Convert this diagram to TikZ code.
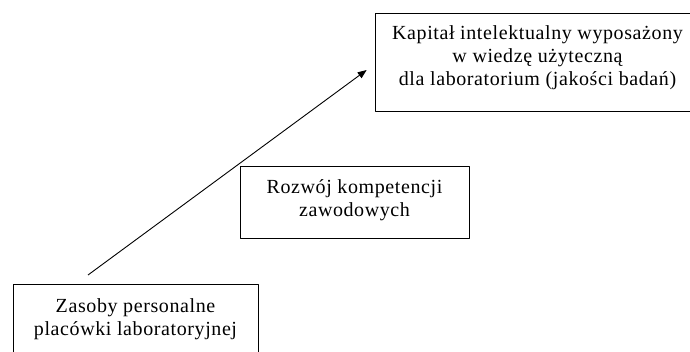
\documentclass[tikz,border=0pt]{standalone}
\usepackage{fontspec}
\setmainfont[LetterSpace=3]{Liberation Serif}
\usetikzlibrary{arrows.meta}
\begin{document}
\begin{tikzpicture}[x=1pt, y=1pt, font=\fontsize{20}{23}\selectfont, line join=round, >={Triangle[length=9pt,width=7pt]},
	box/.style={draw, line width=0.7pt, align=center, inner sep=0pt}]
			\def\W{690} \def\H{351}
			\useasboundingbox (0,0) rectangle (\W,\H);
			\node[box, minimum width=325, minimum height=98, text depth=12pt] (kapital) at (537.5,289) {Kapitał intelektualny wyposażony\\w wiedzę użyteczną\\dla laboratorium (jakości badań)};
			\node[box, minimum width=229, minimum height=72, text depth=8pt] (rozwoj) at (354.5,149) {Rozwój kompetencji\\zawodowych};
			\node[box, minimum width=245, minimum height=71] (zasoby) at (135.5,31.5) {Zasoby personalne\\placówki laboratoryjnej};
			\coordinate (start) at (88,76);
			\coordinate (tip) at ([shift={(-8,-8)}]kapital.west);
			\draw[->, line width=0.9pt] (start)--(tip);
		\end{tikzpicture}
\end{document}
